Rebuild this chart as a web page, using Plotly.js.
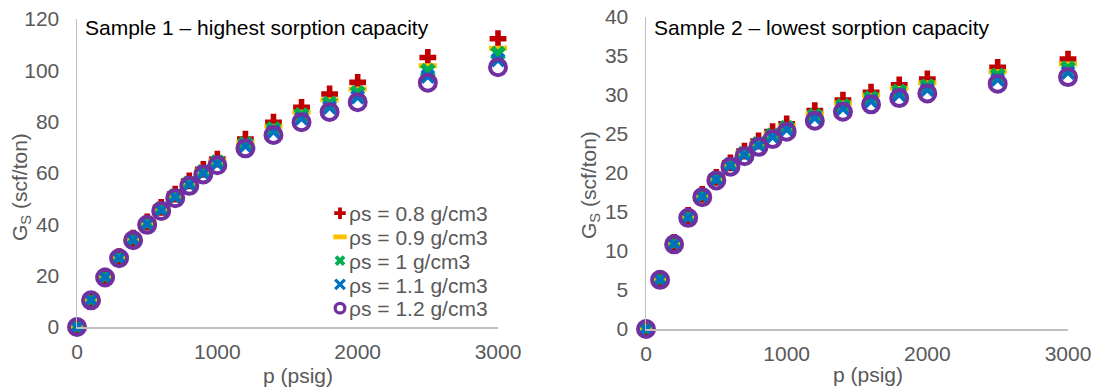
<!DOCTYPE html>
<html>
<head>
<meta charset="utf-8">
<script src="https://cdn.plot.ly/plotly-3.0.1.min.js"></script>
<style>html,body{margin:0;padding:0;background:#fff;}#chart{width:1097px;height:387px;}</style>
</head>
<body>
<div id="chart"></div>
<script>
// Pressure (psig)
const pressure = [0,100,200,300,400,500,600,700,800,900,1000,1200,1400,1600,1800,2000,2500,3000];

const seriesNames = ['ρs = 0.8 g/cm3','ρs = 0.9 g/cm3','ρs = 1 g/cm3','ρs = 1.1 g/cm3','ρs = 1.2 g/cm3'];

// Sample 1 – highest sorption capacity, Gs (scf/ton)
const s1_rho08 = [0,10.7,19.8,27.4,34.6,40.9,46.6,51.8,56.9,61.4,65.4,73.2,79.8,85.6,90.8,95.3,105.0,112.3];
const s1_rho09 = [0,10.62,19.67,27.25,34.4,40.6,46.25,51.4,56.4,60.85,64.7,72.0,78.2,83.7,88.5,92.7,101.8,108.6];
const s1_rho10 = [0,10.55,19.55,27.1,34.2,40.35,45.9,51.0,55.95,60.4,64.2,71.3,77.2,82.6,87.1,91.3,99.9,106.6];
const s1_rho11 = [0,10.48,19.43,26.95,34.0,40.1,45.55,50.6,55.5,59.9,63.6,70.5,76.0,81.2,85.5,89.5,97.6,104.0];
const s1_rho12 = [0,10.4,19.3,26.8,33.8,39.8,45.2,50.2,55.0,59.4,63.0,69.6,74.8,79.8,83.8,87.6,95.2,101.2];

// Sample 2 – lowest sorption capacity, Gs (scf/ton)
const s2_rho08 = [0,6.45,11.1,14.55,17.25,19.45,21.3,22.8,24.1,25.3,26.3,28.0,29.35,30.35,31.3,32.05,33.55,34.6];
const s2_rho09 = [0,6.41,11.03,14.47,17.15,19.35,21.18,22.64,23.91,25.06,26.05,27.68,28.98,29.96,30.85,31.55,32.99,33.98];
const s2_rho10 = [0,6.38,10.98,14.4,17.08,19.25,21.05,22.48,23.73,24.83,25.8,27.35,28.6,29.58,30.45,31.13,32.5,33.45];
const s2_rho11 = [0,6.34,10.91,14.32,16.99,19.15,20.93,22.31,23.54,24.59,25.55,27.03,28.23,29.19,30.03,30.67,31.98,32.88];
const s2_rho12 = [0,6.3,10.85,14.25,16.9,19.05,20.8,22.15,23.35,24.35,25.3,26.7,27.85,28.8,29.6,30.2,31.45,32.3];

const xTicks = [0,1000,2000,3000];

const markers = [
  {symbol:'cross', size:14, color:'#c00000', line:{width:0}},
  {symbol:'line-ew-open', size:13, color:'#ffc000', line:{width:5, color:'#ffc000'}},
  {symbol:'x', size:14, color:'#00b050', line:{width:0}},
  {symbol:'x-thin-open', size:12, color:'#0070c0', line:{width:4, color:'#0070c0'}},
  {symbol:'circle-open', size:16, color:'#7030a0', line:{width:4, color:'#7030a0'}}
];
const legendStroke = [null, 6, null, 4, 4];

const s1 = [s1_rho08,s1_rho09,s1_rho10,s1_rho11,s1_rho12];
const s2 = [s2_rho08,s2_rho09,s2_rho10,s2_rho11,s2_rho12];

const traces = [];
s1.forEach((ys,i)=>{
  traces.push({x:pressure, y:ys, type:'scatter', mode:'markers', name:seriesNames[i],
    marker:markers[i], xaxis:'x', yaxis:'y', cliponaxis:false, showlegend:true, hoverinfo:'skip'});
});
s2.forEach((ys,i)=>{
  traces.push({x:pressure, y:ys, type:'scatter', mode:'markers', name:seriesNames[i],
    marker:markers[i], xaxis:'x2', yaxis:'y2', cliponaxis:false, showlegend:false, hoverinfo:'skip'});
});

const W = 1097, H = 387;
const FONT = 'Liberation Sans, Arial, sans-serif';
const GREY = '#595959';
const axisCommon = {showgrid:false, zeroline:false, showline:true, linecolor:'#bfbfbf', linewidth:1.5,
  ticks:'', tickfont:{family:FONT, size:21, color:GREY}, fixedrange:true};

const layout = {
  width:W, height:H,
  margin:{l:0,r:0,t:0,b:0},
  paper_bgcolor:'#ffffff', plot_bgcolor:'rgba(0,0,0,0)',
  font:{family:FONT, size:21, color:GREY},
  showlegend:true,
  legend:{x:309/W, xanchor:'left', y:1-193/H, yanchor:'top', bgcolor:'rgba(0,0,0,0)',
    font:{family:FONT, size:21, color:GREY}, itemsizing:'constant', tracegroupgap:0},
  xaxis:Object.assign({}, axisCommon, {domain:[77/W, 498/W], range:[0,3000], tickvals:xTicks, anchor:'y', ticklabelstandoff:5}),
  yaxis:Object.assign({}, axisCommon, {domain:[60/H, 368/H], range:[0,120], dtick:20, anchor:'x', ticklabelstandoff:12}),
  xaxis2:Object.assign({}, axisCommon, {domain:[646/W, 1068/W], range:[0,3000], tickvals:xTicks, anchor:'y2', ticklabelstandoff:5}),
  yaxis2:Object.assign({}, axisCommon, {domain:[58/H, 370/H], range:[0,40], dtick:5, anchor:'x2', ticklabelstandoff:12}),
  annotations:[
    {text:'Sample 1 – highest sorption capacity', xref:'paper', yref:'paper', x:83/W, y:1-27/H, xanchor:'left', yanchor:'middle', showarrow:false, font:{family:FONT, size:21, color:'#000000'}},
    {text:'Sample 2 – lowest sorption capacity', xref:'paper', yref:'paper', x:652/W, y:1-28/H, xanchor:'left', yanchor:'middle', showarrow:false, font:{family:FONT, size:21, color:'#000000'}},
    {text:'G<sub>S</sub> (scf/ton)', xref:'paper', yref:'paper', x:21/W, y:1-187/H, xanchor:'center', yanchor:'middle', textangle:-90, showarrow:false, font:{family:FONT, size:21, color:GREY}},
    {text:'G<sub>S</sub> (scf/ton)', xref:'paper', yref:'paper', x:590/W, y:1-185/H, xanchor:'center', yanchor:'middle', textangle:-90, showarrow:false, font:{family:FONT, size:21, color:GREY}},
    {text:'p (psig)', xref:'paper', yref:'paper', x:298/W, y:1-375/H, xanchor:'center', yanchor:'middle', showarrow:false, font:{family:FONT, size:21, color:GREY}},
    {text:'p (psig)', xref:'paper', yref:'paper', x:868/W, y:1-374/H, xanchor:'center', yanchor:'middle', showarrow:false, font:{family:FONT, size:21, color:GREY}}
  ]
};

Plotly.newPlot('chart', traces, layout, {staticPlot:true, displayModeBar:false}).then(()=>{
  // tighten legend row spacing and symbol placement to match the reference
  const items = document.querySelectorAll('.legend .traces');
  if (!items.length) return;
  const parse = el => { const m = /translate\(\s*([-\d.]+)[ ,]+([-\d.]+)\s*\)/.exec(el.getAttribute('transform')||''); return m ? [parseFloat(m[1]), parseFloat(m[2])] : [0,0]; };
  const first = parse(items[0]);
  items.forEach((el,i)=>{
    const p = parse(el);
    el.setAttribute('transform', `translate(${p[0]},${first[1] + i*23.75})`);
    const pts = el.querySelector('.legendpoints');
    if (pts) {
      pts.setAttribute('transform', 'translate(31,0) scale(0.8) translate(-20,0)');
      if (legendStroke[i]) pts.querySelectorAll('path').forEach(pa=>{ pa.style.strokeWidth = legendStroke[i] + 'px'; });
    }
  });
});
</script>
</body>
</html>
